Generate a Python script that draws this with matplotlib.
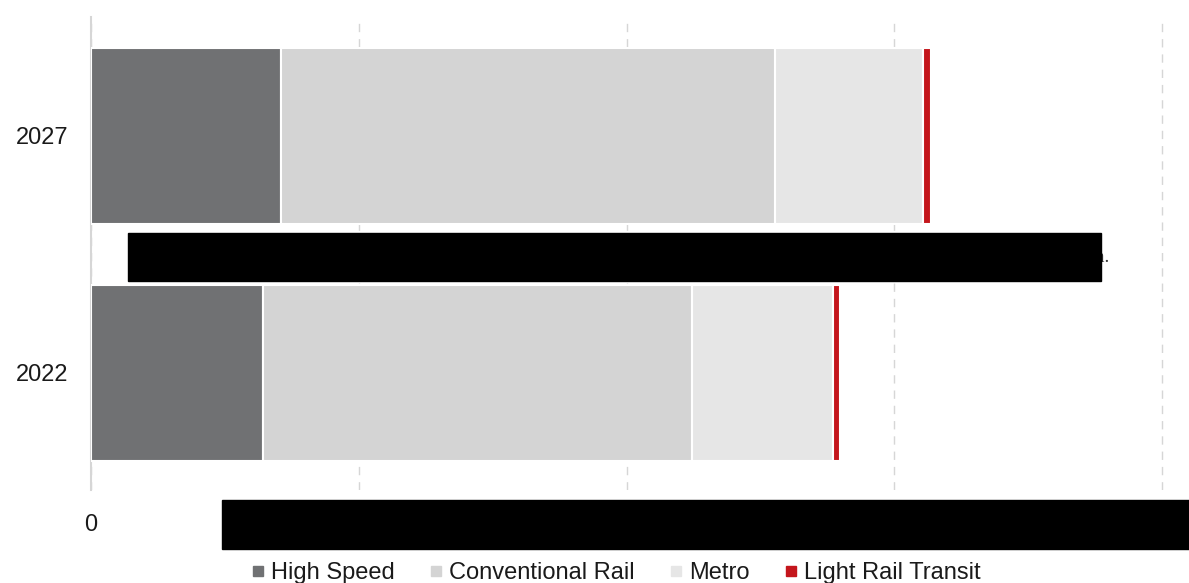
import matplotlib.pyplot as plt
from matplotlib.lines import Line2D
from matplotlib.patches import Rectangle

plt.rcParams['font.family'] = ['Liberation Sans', 'DejaVu Sans']

# data
years = ['2022', '2027']
segments = ['High Speed', 'Conventional Rail', 'Metro', 'Light Rail Transit']
high_speed = [6.42, 7.09]
conventional = [16.02, 18.45]
metro = [5.27, 5.53]
light_rail = [0.26, 0.30]
colors = ['#707173', '#d4d4d4', '#e6e6e6', '#c4161c']

W, H = 1189, 583
fig = plt.figure(figsize=(W / 100, H / 100), dpi=100)
ax = fig.add_axes([91 / W, (H - 490) / H, (1170 - 91) / W, (490 - 17) / H])

pos = list(range(len(years)))
left = [0.0] * len(years)
for vals, col in zip([high_speed, conventional, metro, light_rail], colors):
    ax.barh(pos, vals, left=left, height=0.74, color=col,
            edgecolor='white', linewidth=1.5, zorder=3)
    left = [a + b for a, b in zip(left, vals)]

ax.set_xlim(0, 40.29)
ax.set_ylim(-0.494, 1.502)
ax.set_yticks(pos)
ax.set_yticklabels(years, fontsize=17, color='#1a1a1a')
ax.set_xticks([0, 10, 20, 30, 40])
ax.set_xticklabels(['0', '', '', '', ''], fontsize=17, color='#1a1a1a')
ax.tick_params(axis='both', length=0)
ax.tick_params(axis='y', pad=16)
ax.tick_params(axis='x', pad=17)

ax.grid(axis='x', color='#d6d6d6', linestyle=(0, (6, 5)), linewidth=1, zorder=0)
for side in ['top', 'right', 'bottom']:
    ax.spines[side].set_visible(False)
ax.spines['left'].set_color('#d6d6d6')
ax.spines['left'].set_linewidth(1.5)

# legend along the bottom
handles = [Line2D([], [], marker='s', linestyle='none', markersize=7,
                  markerfacecolor=c, markeredgecolor=c) for c in colors]
fig.legend(handles, segments, loc='center', bbox_to_anchor=(616 / W, 10 / H),
           ncol=4, frameon=False, fontsize=17, handlelength=0.5,
           handletextpad=0.3, columnspacing=1.5, labelcolor='#1a1a1a')

# note text and redaction blocks
fig.text(1109 / W, (H - 257) / H, 'bn.', ha='right', va='center',
         fontsize=14, family='Liberation Serif', color='#333333')
fig.add_artist(Rectangle((128 / W, (H - 281) / H), 973 / W, 48 / H,
                         transform=fig.transFigure, color='black', zorder=10))
fig.add_artist(Rectangle((222 / W, (H - 549) / H), 967 / W, 49 / H,
                         transform=fig.transFigure, color='black', zorder=10))

fig.savefig('out.png', dpi=100)
